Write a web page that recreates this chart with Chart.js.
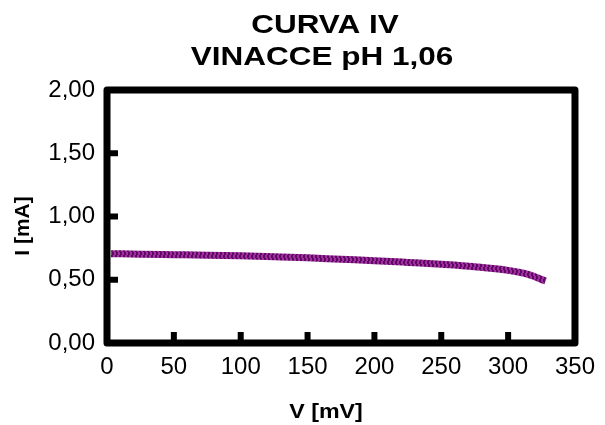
<!DOCTYPE html>
<html>
<head>
<meta charset="utf-8">
<script src="https://cdn.jsdelivr.net/npm/chart.js@4.4.1/dist/chart.umd.min.js"></script>
<style>
  html, body { margin: 0; padding: 0; background: #fff; }
  #wrap { width: 605px; height: 425px; position: relative; }
</style>
</head>
<body>
<div id="wrap"><canvas id="c"></canvas></div>
<script>
// IV curve data: voltage in mV, current in mA
const titleLines = ['CURVA IV', 'VINACCE pH 1,06'];
const voltage = [3, 25, 50, 75, 100, 125, 150, 175, 200, 225, 250, 275, 300, 315, 328];
const current = [0.706, 0.702, 0.698, 0.694, 0.689, 0.682, 0.674, 0.662, 0.651, 0.637, 0.622, 0.603, 0.574, 0.542, 0.49];
const xTicks = [0, 50, 100, 150, 200, 250, 300, 350];
const yTicks = [0, 0.5, 1, 1.5, 2];
const xTitle = 'V [mV]';
const yTitle = 'I [mA]';

const FONT = "'Liberation Sans', Arial, sans-serif";

// hatched purple stroke for the curve
function hatch() {
  const p = document.createElement('canvas');
  p.width = 4; p.height = 6;
  const g = p.getContext('2d');
  for (let y = 0; y < 6; y++) {
    for (let x = 0; x < 4; x++) {
      g.fillStyle = ((x + Math.floor(y / 3)) % 4 < 2) ? '#5e0a60' : '#a22ea4';
      g.fillRect(x, y, 1, 1);
    }
  }
  return p.getContext('2d').createPattern(p, 'repeat');
}

// thick black frame with inward tick marks
const framePlugin = {
  id: 'frame',
  afterDatasetsDraw(chart) {
    const { ctx, chartArea: a, scales } = chart;
    ctx.save();
    ctx.strokeStyle = '#000';
    ctx.lineWidth = 7;
    ctx.lineJoin = 'round';
    ctx.strokeRect(a.left, a.top, a.right - a.left, a.bottom - a.top);
    ctx.lineWidth = 6;
    ctx.lineCap = 'butt';
    xTicks.slice(1, -1).forEach(v => {
      const px = scales.x.getPixelForValue(v);
      ctx.beginPath();
      ctx.moveTo(px, a.bottom);
      ctx.lineTo(px, a.bottom - 11);
      ctx.stroke();
    });
    yTicks.slice(1, -1).forEach(v => {
      const py = scales.y.getPixelForValue(v);
      ctx.beginPath();
      ctx.moveTo(a.left, py);
      ctx.lineTo(a.left + 11, py);
      ctx.stroke();
    });
    ctx.restore();
  }
};

// heading and axis captions, drawn as wide bold text
function wideText(ctx, text, x, y, size, stretch, angle) {
  ctx.save();
  ctx.translate(x, y);
  if (angle) ctx.rotate(angle);
  ctx.scale(stretch, 1);
  ctx.font = 'bold ' + size + 'px ' + FONT;
  ctx.textAlign = 'center';
  ctx.textBaseline = 'alphabetic';
  ctx.fillStyle = '#000';
  ctx.fillText(text, 0, 0);
  ctx.restore();
}

const captionPlugin = {
  id: 'captions',
  afterDraw(chart) {
    const ctx = chart.ctx;
    wideText(ctx, titleLines[0], 325, 33, 25, 1.26, 0);
    wideText(ctx, titleLines[1], 322, 65, 25, 1.26, 0);
    wideText(ctx, xTitle, 326, 418, 20, 1.16, 0);
    wideText(ctx, yTitle, 29, 226, 21, 1, -Math.PI / 2);
  }
};

new Chart(document.getElementById('c'), {
  type: 'line',
  data: {
    datasets: [{
      data: voltage.map((v, i) => ({ x: v, y: current[i] })),
      borderColor: hatch(),
      borderWidth: 7,
      pointRadius: 0,
      cubicInterpolationMode: 'monotone',
      fill: false
    }]
  },
  options: {
    responsive: true,
    maintainAspectRatio: false,
    animation: false,
    layout: { padding: { top: 90, right: 23, left: 0, bottom: 0 } },
    plugins: { legend: { display: false }, tooltip: { enabled: false }, title: { display: false } },
    scales: {
      x: {
        type: 'linear',
        min: 0, max: 350,
        afterBuildTicks(s) { s.ticks = xTicks.map(v => ({ value: v })); },
        afterFit(s) { s.height = 82; },
        grid: { display: false, drawTicks: false },
        border: { display: false },
        ticks: {
          padding: 10,
          color: '#000',
          font: { family: FONT, size: 24 },
          callback: v => String(v)
        },
        title: { display: false }
      },
      y: {
        type: 'linear',
        min: 0, max: 2,
        afterBuildTicks(s) { s.ticks = yTicks.map(v => ({ value: v })); },
        afterFit(s) { s.width = 107; },
        grid: { display: false, drawTicks: false },
        border: { display: false },
        ticks: {
          padding: 12,
          color: '#000',
          font: { family: FONT, size: 24 },
          callback: v => v.toFixed(2).replace('.', ',')
        },
        title: { display: false }
      }
    }
  },
  plugins: [framePlugin, captionPlugin]
});
</script>
</body>
</html>
